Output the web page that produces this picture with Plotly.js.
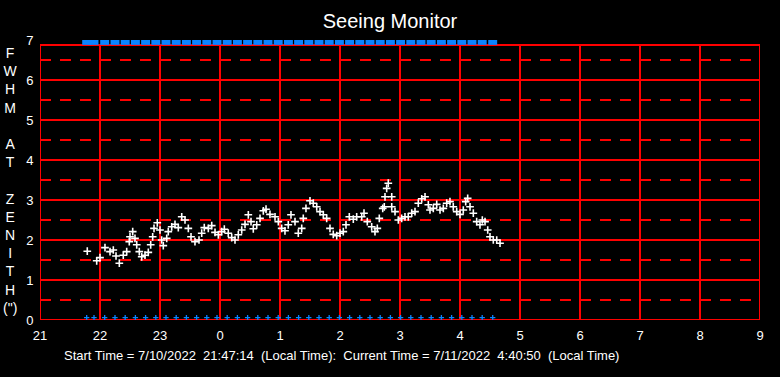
<!DOCTYPE html>
<html>
<head>
<meta charset="utf-8">
<script src="https://cdn.plot.ly/plotly-3.0.1.min.js"></script>
<style>
html,body{margin:0;padding:0;background:#000;}
#chart{width:780px;height:377px;}
</style>
</head>
<body>
<div id="chart"></div>
<script>
// Hours continue past midnight (24 = 0h, 25 = 1h ...)
const xTickVals = [21,22,23,24,25,26,27,28,29,30,31,32,33];
const xTickText = ["21","22","23","0","1","2","3","4","5","6","7","8","9"];
const yTickVals = [0,1,2,3,4,5,6,7];
const yHalfVals = [0.5,1.5,2.5,3.5,4.5,5.5,6.5];

const fwhmTime = [21.788,21.945,22.0,22.083,22.167,22.222,22.267,22.322,22.388,22.445,22.488,22.5,22.545,22.583,22.612,22.655,22.695,22.75,22.805,22.845,22.878,22.9,22.955,23.0,23.028,23.055,23.112,23.138,23.195,23.25,23.305,23.362,23.417,23.472,23.517,23.583,23.65,23.695,23.738,23.805,23.862,23.917,23.972,24.028,24.072,24.138,24.195,24.25,24.305,24.362,24.417,24.472,24.517,24.555,24.612,24.667,24.722,24.767,24.833,24.917,24.972,25.028,25.083,25.138,25.183,25.25,25.305,25.362,25.388,25.433,25.5,25.555,25.612,25.667,25.722,25.778,25.833,25.888,25.945,26.0,26.055,26.1,26.155,26.222,26.278,26.362,26.4,26.455,26.528,26.583,26.622,26.655,26.712,26.738,26.75,26.778,26.805,26.862,26.862,26.917,26.972,27.028,27.083,27.138,27.195,27.25,27.305,27.362,27.417,27.472,27.5,27.555,27.612,27.667,27.722,27.778,27.833,27.888,27.945,28.0,28.055,28.095,28.128,28.167,28.222,28.278,28.333,28.372,28.417,28.462,28.5,28.555,28.612,28.667];
const fwhmValue = [1.72,1.48,1.56,1.81,1.71,1.75,1.6,1.42,1.62,1.71,1.96,2.08,2.21,2.04,1.88,1.71,1.58,1.62,1.69,1.88,2.08,2.29,2.43,2.25,2.0,1.86,2.04,2.21,2.33,2.39,2.31,2.58,2.5,2.29,2.08,1.96,2.0,2.17,2.31,2.29,2.36,2.19,2.13,2.21,2.27,2.17,2.06,2.0,2.13,2.25,2.39,2.63,2.46,2.28,2.38,2.54,2.73,2.77,2.64,2.58,2.46,2.29,2.23,2.38,2.63,2.46,2.17,2.29,2.54,2.79,2.98,2.92,2.83,2.71,2.63,2.54,2.29,2.14,2.11,2.17,2.21,2.38,2.58,2.52,2.58,2.58,2.67,2.46,2.33,2.21,2.29,2.54,2.79,2.83,3.08,3.29,3.42,3.08,2.83,2.71,2.5,2.54,2.58,2.58,2.67,2.71,2.92,3.03,3.08,2.88,2.75,2.79,2.89,2.75,2.79,2.92,2.96,2.83,2.71,2.64,2.75,2.96,3.04,2.83,2.67,2.46,2.38,2.5,2.46,2.25,2.08,2.0,2.0,1.92];

const statusTime = [21.778,21.9,22.078,22.25,22.42,22.59,22.76,22.93,23.1,23.27,23.44,23.61,23.78,23.95,24.12,24.29,24.46,24.63,24.8,24.97,25.14,25.31,25.48,25.65,25.82,25.99,26.16,26.33,26.5,26.67,26.84,27.01,27.18,27.35,27.52,27.69,27.86,28.03,28.2,28.37,28.545];
const statusTop = statusTime.map(() => 6.94);
const statusBottom = statusTime.map(() => 0.06);

const titleText = "Seeing Monitor";
const yLabelLetters = ["F","W","H","M","","A","T","","Z","E","N","I","T","H","(\")"];
const footerText = "Start Time = 7/10/2022  21:47:14  (Local Time):  Current Time = 7/11/2022  4:40:50  (Local Time)";

const RED = "#ff0000";
const BLUE = "#0a84ff";
const FONT = "Liberation Sans, Arial, sans-serif";
const FRAME_TOP = 6.875;

const shapes = [];
xTickVals.forEach(v => shapes.push({type:"line", xref:"x", yref:"y", x0:v, x1:v, y0:0, y1:FRAME_TOP, line:{color:RED, width:2}, layer:"below"}));
yTickVals.slice(0,7).forEach(v => shapes.push({type:"line", xref:"x", yref:"y", x0:21, x1:33, y0:v, y1:v, line:{color:RED, width:2}, layer:"below"}));
shapes.push({type:"line", xref:"x", yref:"y", x0:21, x1:33, y0:FRAME_TOP, y1:FRAME_TOP, line:{color:RED, width:2}, layer:"below"});
yHalfVals.forEach(v => shapes.push({type:"line", xref:"x", yref:"y", x0:21, x1:33, y0:v, y1:v, line:{color:RED, width:2, dash:"11px,9px"}, layer:"below"}));

const traces = [
  {x: fwhmTime, y: fwhmValue, type:"scatter", mode:"markers", hoverinfo:"skip",
   marker:{symbol:"cross-thin-open", size:5.5, color:"#ffffff", line:{color:"#ffffff", width:1.6}}},
  {x: statusTime, y: statusTop, type:"scatter", mode:"markers", hoverinfo:"skip",
   marker:{symbol:"line-ew-open", size:6.4, color:BLUE, line:{color:BLUE, width:5}}},
  {x: statusTime, y: statusBottom, type:"scatter", mode:"markers", hoverinfo:"skip",
   marker:{symbol:"cross-thin-open", size:3.8, color:BLUE, line:{color:BLUE, width:1.3}}}
];

const layout = {
  width:780, height:377,
  paper_bgcolor:"#000", plot_bgcolor:"#000",
  margin:{l:40, r:20, t:40, b:57},
  showlegend:false,
  font:{family:FONT, color:"#ffffff", size:13},
  title:{text:titleText, font:{family:FONT, size:20, color:"#ffffff"}, x:0.5, xref:"container", y:0.945, yref:"container", yanchor:"middle"},
  xaxis:{range:[21,33], tickvals:xTickVals, ticktext:xTickText, showgrid:false, zeroline:false, showline:false,
         ticks:"outside", ticklen:3, tickcolor:"rgba(0,0,0,0)", tickfont:{family:FONT, size:13, color:"#ffffff"}, fixedrange:true},
  yaxis:{range:[0,7], tickvals:yTickVals, showgrid:false, zeroline:false, showline:false,
         ticks:"outside", ticklen:3, tickcolor:"rgba(0,0,0,0)", tickfont:{family:FONT, size:13, color:"#ffffff"}, fixedrange:true},
  shapes: shapes,
  annotations:[
    {text: yLabelLetters.join("<br>"), xref:"paper", yref:"paper", x:-0.0403, y:0.497, xanchor:"center", yanchor:"middle",
     showarrow:false, align:"center", font:{family:FONT, size:14, color:"#ffffff"}},
    {text: footerText, xref:"paper", yref:"paper", x:0.419, y:-0.125, xanchor:"center", yanchor:"middle",
     showarrow:false, font:{family:FONT, size:13, color:"#ffffff"}}
  ]
};

Plotly.newPlot("chart", traces, layout, {displayModeBar:false, staticPlot:true});
</script>
</body>
</html>
